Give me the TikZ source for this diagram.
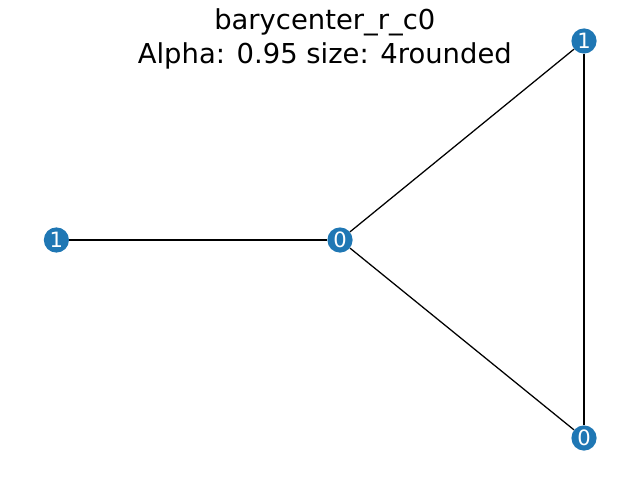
\documentclass[tikz,border=0pt]{standalone}
\usepackage{fontspec}
\setmainfont{DejaVu Sans}
\definecolor{tabblue}{HTML}{1F77B4}
\begin{document}
\begin{tikzpicture}[
        vertex/.style={
        circle,
        fill=tabblue,
        minimum size=0.63cm,
        inner sep=0pt,
        text=white,
        font=\fontsize{15}{15}\selectfont
      },
      title/.style={
        font=\fontsize{19.5}{20}\selectfont
      },
      edge/.style={
        line width=0.9pt
      }
    ]

    \useasboundingbox (0, 0) rectangle (16, 12);

    \node[title] (t1) at (8.12, 11.43) {barycenter\_r\_c0};
    \node[title] (t2) at (8.12, 10.61) {Alpha: 0.95 size: 4rounded};

    \node[vertex] (v_l) at (1.41, 6.0) {1};
    \node[vertex] (v_c) at (8.5, 6.0) {0};
    \node[vertex] (v_t) at (14.6, 10.975) {1};
    \node[vertex] (v_b) at (14.6, 1.05) {0};

    \draw[edge] (v_l) -- (v_c);
    \draw[edge] (v_c) -- (v_t);
    \draw[edge] (v_c) -- (v_b);
    \draw[edge] (v_t) -- (v_b);

  \end{tikzpicture}
\end{document}
